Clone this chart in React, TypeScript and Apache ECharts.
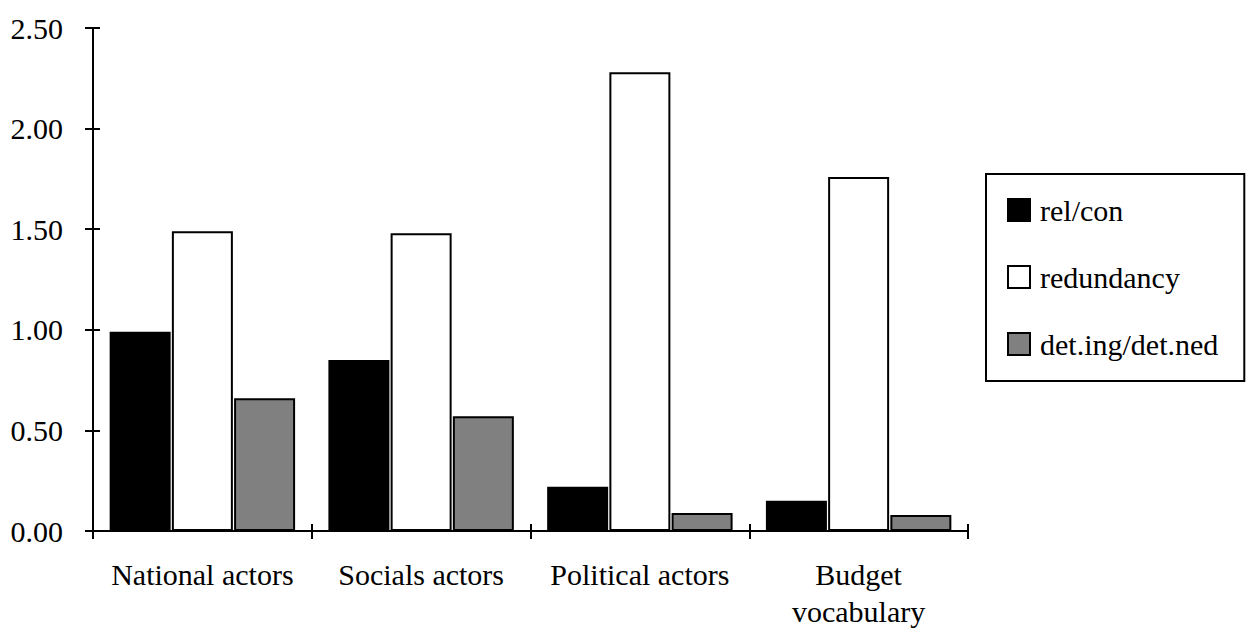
import React, { useEffect, useRef } from "react";
import * as echarts from "echarts";

const categories = ["National actors", "Socials actors", "Political actors", "Budget\nvocabulary"];
const relCon = [0.99, 0.85, 0.22, 0.15];
const redundancy = [1.49, 1.48, 2.28, 1.76];
const detIngDetNed = [0.66, 0.57, 0.09, 0.08];
const seriesNames = ["rel/con", "redundancy", "det.ing/det.ned"];
const seriesColors = ["#000000", "#ffffff", "#808080"];
const yMin = 0;
const yMax = 2.5;
const yInterval = 0.5;

const FONT = "'Times New Roman', 'Liberation Serif', 'DejaVu Serif', serif";

export default function App() {
  const ref = useRef<HTMLDivElement>(null);
  useEffect(() => {
    if (!ref.current) return;
    const chart = echarts.init(ref.current, null, { renderer: "svg" });
    const values = [relCon, redundancy, detIngDetNed];
    const option: any = {
      animation: false,
      backgroundColor: "#ffffff",
      textStyle: { fontFamily: FONT, color: "#000" },
      grid: { left: 93, top: 28, right: 285, bottom: 90, containLabel: false },
      legend: {
        orient: "vertical",
        left: 986,
        top: 174,
        padding: [21, 26, 22, 21],
        itemGap: 37,
        itemWidth: 22,
        itemHeight: 22,
        borderColor: "#000",
        borderWidth: 2,
        backgroundColor: "#fff",
        icon: "rect",
        selectedMode: false,
        textStyle: { fontFamily: FONT, fontSize: 30, color: "#000", padding: [0, 0, 0, 5] },
        data: seriesNames,
      },
      xAxis: [
        {
          type: "category",
          data: categories,
          position: "bottom",
          boundaryGap: true,
          axisLine: { show: true, lineStyle: { color: "#000", width: 2 } },
          axisTick: { show: true, inside: false, length: 8, lineStyle: { color: "#000", width: 2 } },
          axisLabel: {
            show: true,
            interval: 0,
            margin: 25,
            fontFamily: FONT,
            fontSize: 30,
            lineHeight: 37,
            color: "#000",
            align: "center",
          },
          splitLine: { show: false },
        },
        {
          type: "category",
          data: categories,
          position: "bottom",
          boundaryGap: true,
          axisLine: { show: false },
          axisTick: { show: true, inside: true, length: 7, lineStyle: { color: "#000", width: 2 } },
          axisLabel: { show: false },
          splitLine: { show: false },
        },
      ],
      yAxis: [
        {
          type: "value",
          min: yMin,
          max: yMax,
          interval: yInterval,
          position: "left",
          axisLine: { show: true, lineStyle: { color: "#000", width: 2 } },
          axisTick: { show: true, inside: false, length: 8, lineStyle: { color: "#000", width: 2 } },
          axisLabel: {
            margin: 30,
            fontFamily: FONT,
            fontSize: 30,
            color: "#000",
            formatter: (v: number) => v.toFixed(2),
          },
          splitLine: { show: false },
        },
        {
          type: "value",
          min: yMin,
          max: yMax,
          interval: yInterval,
          position: "left",
          axisLine: { show: false },
          axisTick: { show: true, inside: true, length: 7, lineStyle: { color: "#000", width: 2 } },
          axisLabel: { show: false },
          splitLine: { show: false },
        },
      ],
      series: seriesNames.map((name, i) => ({
        name,
        type: "bar",
        xAxisIndex: 0,
        yAxisIndex: 0,
        data: values[i],
        barWidth: 61,
        barGap: "2%",
        itemStyle: { color: seriesColors[i], borderColor: "#000", borderWidth: 2 },
        emphasis: { disabled: true },
      })),
    };
    chart.setOption(option);
    return () => chart.dispose();
  }, []);
  return (
    <div
      ref={ref}
      style={{ position: "absolute", left: 0, top: 0, width: 1253, height: 630 }}
    />
  );
}
